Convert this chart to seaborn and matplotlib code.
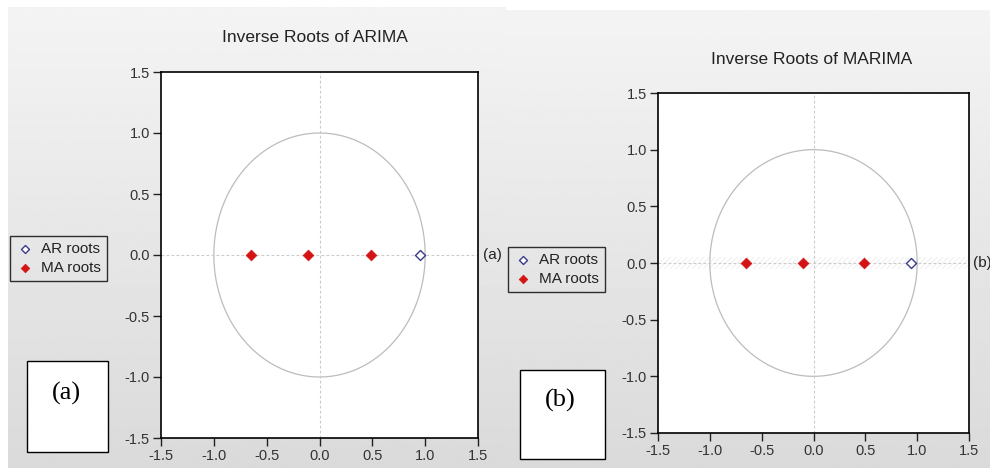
import numpy as np
import pandas as pd
import matplotlib
matplotlib.use("Agg")
import matplotlib.pyplot as plt
from matplotlib.patches import Rectangle
import seaborn as sns

sns.set_theme(style="white")
plt.rcParams["font.family"] = ["Liberation Sans", "DejaVu Sans"]
plt.rcParams["hatch.linewidth"] = 0.6

# Inverse roots (real parts; all roots lie on the real axis)
panel_titles = ["Inverse Roots of ARIMA", "Inverse Roots of MARIMA"]
panel_tags = ["(a)", "(b)"]
ar_roots_arima = [0.948]
ma_roots_arima = [-0.647, -0.111, 0.490]
ar_roots_marima = [0.944]
ma_roots_marima = [-0.654, -0.103, 0.483]
tick_values = [-1.5, -1.0, -0.5, 0.0, 0.5, 1.0, 1.5]
tick_labels = ["-1.5", "-1.0", "-0.5", "0.0", "0.5", "1.0", "1.5"]

W, H = 990, 468
fig = plt.figure(figsize=(W / 100, H / 100), dpi=100)
fig.patch.set_facecolor("white")

# Pixel-space canvas for backgrounds, boxes and free text
bg = fig.add_axes([0, 0, 1, 1], zorder=-5)
bg.set_xlim(0, W)
bg.set_ylim(H, 0)
bg.axis("off")

grad = np.linspace(0.955, 0.855, 256)[:, None]
bg.imshow(grad, cmap="gray", vmin=0, vmax=1, aspect="auto",
          extent=(8, 506, H, 7), interpolation="bilinear")
bg.imshow(grad, cmap="gray", vmin=0, vmax=1, aspect="auto",
          extent=(506, W, H, 10), interpolation="bilinear")
bg.set_xlim(0, W)
bg.set_ylim(H, 0)


def frac(x0, y0, x1, y1):
    return [x0 / W, 1 - y1 / H, (x1 - x0) / W, (y1 - y0) / H]


tick_size = 10.5
text_size = 11
title_size = 12.5

panels = [
    dict(rect=frac(161, 72, 478, 438), ar=ar_roots_arima, ma=ma_roots_arima,
         title_xy=(315, 37), tag_xy=(483, 255), legend_xy=(10, 236),
         box=(27, 361, 81, 91), box_text_xy=(66, 393), hatch=False),
    dict(rect=frac(658, 93, 969, 433), ar=ar_roots_marima, ma=ma_roots_marima,
         title_xy=(812, 59), tag_xy=(973, 263), legend_xy=(508, 247),
         box=(520, 370, 85, 89), box_text_xy=(560, 400), hatch=True),
]

theta = np.linspace(0, 2 * np.pi, 400)

for i, p in enumerate(panels):
    ax = fig.add_axes(p["rect"])
    ax.set_facecolor("white")

    if p["hatch"]:
        ax.axhspan(-0.05, 0.05, facecolor="none", hatch="//////",
                   edgecolor="#ececec", lw=0, zorder=0.5)

    ax.plot(np.cos(theta), np.sin(theta), color="#bcbcbc", lw=0.9, zorder=1)
    ax.axhline(0, color="#cacaca", lw=0.8, ls=(0, (2.5, 2)), zorder=1)
    ax.axvline(0, color="#cacaca", lw=0.8, ls=(0, (2.5, 2)), zorder=1)

    ar_df = pd.DataFrame({"re": p["ar"], "im": [0.0] * len(p["ar"])})
    ma_df = pd.DataFrame({"re": p["ma"], "im": [0.0] * len(p["ma"])})
    sns.scatterplot(data=ar_df, x="re", y="im", marker="D", s=26,
                    color="white", edgecolor="#3a3a8c", linewidth=1.0,
                    label="AR roots", ax=ax, zorder=5)
    sns.scatterplot(data=ma_df, x="re", y="im", marker="D", s=30,
                    color="#d41414", edgecolor="#d41414", linewidth=0.5,
                    label="MA roots", ax=ax, zorder=5)

    ax.set_xlim(-1.5, 1.5)
    ax.set_ylim(-1.5, 1.5)
    ax.set_xticks(tick_values, tick_labels)
    ax.set_yticks(tick_values, tick_labels)
    ax.set_xlabel("")
    ax.set_ylabel("")
    ax.tick_params(bottom=True, left=True, direction="out", length=6,
                   width=1, color="#222222", labelsize=tick_size,
                   labelcolor="#333333", pad=2)
    for sp in ax.spines.values():
        sp.set_visible(True)
        sp.set_color("black")
        sp.set_linewidth(1.2)

    lx, ly = p["legend_xy"]
    leg = ax.legend(loc="upper left", bbox_to_anchor=(lx / W, 1 - ly / H),
                    bbox_transform=fig.transFigure, frameon=True,
                    fancybox=False, edgecolor="black", facecolor="none",
                    fontsize=text_size, borderpad=0.4, handletextpad=0.5,
                    labelspacing=0.3, handlelength=1.1, borderaxespad=0,
                    markerscale=0.8)
    leg.get_frame().set_linewidth(1.0)
    for t in leg.get_texts():
        t.set_color("#222222")

    bg.text(*p["title_xy"], panel_titles[i], ha="center", va="center",
            fontsize=title_size, color="#222222")
    bg.text(*p["tag_xy"], panel_tags[i], ha="left", va="center",
            fontsize=text_size, color="#222222")

    bx, by, bw, bh = p["box"]
    bg.add_patch(Rectangle((bx, by), bw, bh, facecolor="white",
                           edgecolor="black", lw=1.0))
    bg.text(*p["box_text_xy"], panel_tags[i], ha="center", va="center",
            fontsize=19, family=["Liberation Serif", "DejaVu Serif"],
            color="black")

fig.savefig("out.png", dpi=100)
